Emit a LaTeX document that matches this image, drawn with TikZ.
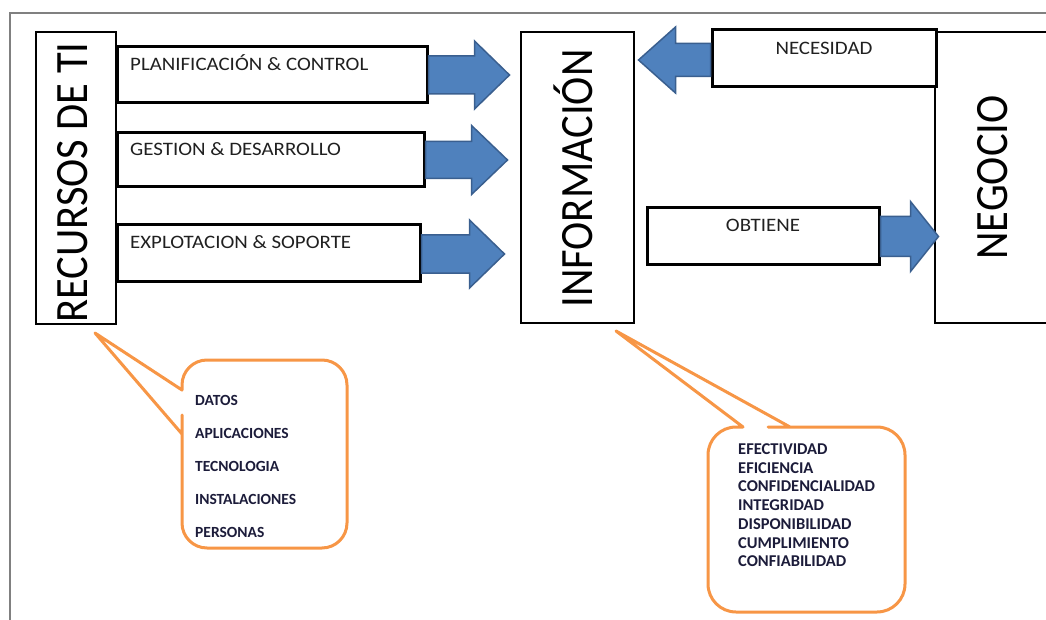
\documentclass[tikz,border=0pt]{standalone}
\usepackage{fontspec}
\setmainfont{Carlito}
\usepackage{graphicx}
\definecolor{arrowblue}{HTML}{4F81BD}
\definecolor{arrowedge}{HTML}{3A5F8F}
\definecolor{calloutorange}{HTML}{F79646}
\definecolor{framegray}{HTML}{808080}
\definecolor{labelgray}{HTML}{202020}
\definecolor{notetext}{HTML}{1C1C3A}
\newcommand{\widetag}[1]{\scalebox{1.1}[1]{#1}}
\newcommand{\talltitle}[1]{\scalebox{1}[1.09]{#1}}
\begin{document}
\begin{tikzpicture}[x=1pt,y=-1pt,
  box/.style={draw=black, line width=2pt, inner sep=0pt, outer sep=0pt, fill=white},
  tagbox/.style={box, line width=3pt},
  title/.style={rotate=90, anchor=base, inner sep=0pt, text=black,
    font=\fontsize{42.5}{50}\selectfont},
  tag/.style={inner sep=0pt, anchor=base west, text=labelgray,
    font=\fontsize{19}{23}\selectfont},
  ctag/.style={tag, anchor=base},
  barrow/.style={fill=arrowblue, draw=arrowedge, line width=1.5pt, line join=miter},
  callout/.style={draw=calloutorange, line width=3pt, line join=round, fill=white},
  note/.style={inner sep=0pt, align=left, anchor=north west, text=notetext,
    font=\bfseries\fontsize{16.5}{18.7}\selectfont}
]
\useasboundingbox (0,0) rectangle (1046,620);
\clip (0,0) rectangle (1046,620);

% page frame
\draw[framegray, line width=1.5pt] (10,630) |- (1060,13);

% main blocks
\node[box, minimum width=80pt, minimum height=292pt] (rec) at (76,178) {};
\node[box, minimum width=113pt, minimum height=291pt] (info) at (577.5,177.5) {};
\node[box, minimum width=115pt, minimum height=291pt] (neg) at (992.5,177.5) {};

% process boxes
\node[tagbox, minimum width=310pt, minimum height=56pt] (plan) at (272,75) {};
\node[tagbox, minimum width=307pt, minimum height=54pt] (gest) at (270.5,160) {};
\node[tagbox, minimum width=303pt, minimum height=56pt] (expl) at (268.5,253) {};
\node[tagbox, minimum width=224pt, minimum height=57pt] (nec) at (824,58.5) {};
\node[tagbox, minimum width=232pt, minimum height=57pt] (obt) at (763,236.5) {};

% vertical titles
\node[title] (rect) at ([xshift=11pt, yshift=-4.5pt]rec.center) {\talltitle{RECURSOS DE TI}};
\node[title] (infot) at ([xshift=14.5pt, yshift=-1pt]info.center) {\talltitle{INFORMACIÓN}};
\node[title] (negt) at ([xshift=14.5pt]neg.center) {\talltitle{NEGOCIO}};

% box labels
\node[tag] (plant) at ([xshift=13pt, yshift=-24pt]plan.north west) {\widetag{PLANIFICACIÓN \& CONTROL}};
\node[tag] (gestt) at ([xshift=13pt, yshift=-23pt]gest.north west) {\widetag{GESTION \& DESARROLLO}};
\node[tag] (explt) at ([xshift=13pt, yshift=-24pt]expl.north west) {\widetag{EXPLOTACION \& SOPORTE}};
\node[ctag] (nect) at ([yshift=-25pt]nec.north) {\widetag{NECESIDAD}};
\node[ctag] (obtt) at ([yshift=-24pt]obt.north) {\widetag{OBTIENE}};

% block arrows
\draw[barrow] ([xshift=1.5pt]plan.east) ++(0,-19) -- ++(46,0) -- ++(0,-15)
  -- ++(35,34) -- ++(-35,34) -- ++(0,-15) -- ++(-46,0) -- cycle;
\draw[barrow] ([xshift=1.5pt]gest.east) ++(0,-18.5) -- ++(46,0) -- ++(0,-16)
  -- ++(36,34.5) -- ++(-36,34.5) -- ++(0,-16) -- ++(-46,0) -- cycle;
\draw[barrow] ([xshift=1.5pt,yshift=-1pt]expl.east) ++(0,-19) -- ++(48,0) -- ++(0,-15)
  -- ++(35,34) -- ++(-35,34) -- ++(0,-15) -- ++(-48,0) -- cycle;
\draw[barrow] ([xshift=-1.5pt,yshift=-1.5pt]nec.west) ++(0,-16.5) -- ++(-35,0) -- ++(0,-16.5)
  -- ++(-37,33) -- ++(37,33) -- ++(0,-16.5) -- ++(35,0) -- cycle;
\draw[barrow] ([xshift=1.5pt]obt.east) ++(0,-20) -- ++(30,0) -- ++(0,-15)
  -- ++(28,35) -- ++(-28,35) -- ++(0,-15) -- ++(-30,0) -- cycle;

% callouts
\draw[callout] (182,434) -- (95,333) -- (182,390) -- (182,386)
  [rounded corners=25pt] -- (182,360) -- (347,360) -- (347,548) -- (182,548)
  -- (182,440) [sharp corners] -- cycle;
\node[note, font=\bfseries\fontsize{15.5}{33}\selectfont] (res) at (195,395)
  {DATOS\\APLICACIONES\\TECNOLOGIA\\INSTALACIONES\\PERSONAS};

\draw[callout] (790,427) -- (616,331) -- (743,427) -- (737,427)
  [rounded corners=28pt] -- (708,427) -- (708,612) -- (905,612) -- (905,427)
  -- (796,427) [sharp corners] -- cycle;
\node[note] (crit) at (738,443.5)
  {EFECTIVIDAD\\EFICIENCIA\\CONFIDENCIALIDAD\\INTEGRIDAD\\DISPONIBILIDAD\\CUMPLIMIENTO\\CONFIABILIDAD};
\end{tikzpicture}
\end{document}
